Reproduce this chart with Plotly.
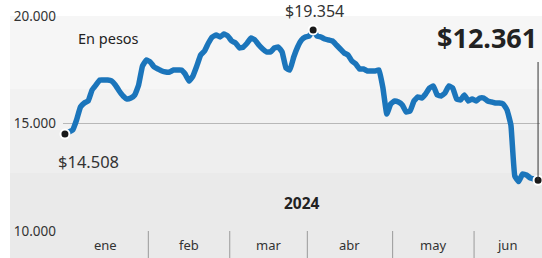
import plotly.graph_objects as go

# ---- data ----
months = ["ene", "feb", "mar", "abr", "may", "jun"]
days_per_month = [22, 21, 20, 22, 21, 17]   # trading days
year_label = "2024"
y_ticks = [10000, 15000, 20000]
y_tick_text = ["10.000", "15.000", "20.000"]

prices = [
    14508, 14605, 14698, 15163, 15768, 15954, 16047, 16558, 16791, 17023,
    17023, 17023, 16977, 16791, 16512, 16279, 16140, 16186, 16326, 16791,
    17674, 17954, 17861, 17628, 17535, 17442, 17395, 17395, 17488, 17488,
    17488, 17302, 16977, 17209, 17674, 18186, 18372, 18744, 19023, 19116,
    19023, 19163, 19070, 18837, 18744, 18512, 18558, 18744, 18977, 18884,
    18651, 18465, 18326, 18326, 18512, 18558, 18326, 17581, 17488, 18093,
    18558, 18884, 19023, 19070, 19354, 19070, 19023, 18930, 18884, 18837,
    18651, 18465, 18279, 18186, 17907, 17768, 17535, 17535, 17442, 17442,
    17442, 17488, 16651, 15442, 15907, 16047, 16000, 15861, 15535, 15582,
    16047, 16233, 16186, 16372, 16651, 16744, 16326, 16279, 16419, 16744,
    16651, 16140, 16093, 16326, 16047, 16140, 16047, 16186, 16186, 16047,
    16000, 15954, 15954, 15907, 15628, 14930, 12558, 12300, 12651, 12605,
    12465, 12419, 12361,
]

x = list(range(len(prices)))
first_i, last_i = 0, len(prices) - 1
peak_i = max(range(len(prices)), key=lambda i: prices[i])

def fmt(v):
    return "$" + f"{v:,}".replace(",", ".")

# month boundaries / centers
bounds = []
c = 0
centers = []
for n in days_per_month:
    centers.append(c + (n - 1) / 2)
    c += n
    bounds.append(c - 0.5)

W, H = 542, 258
ML, MR, MT, MB = 63, 2, 16, 27
PW, PH = W - ML - MR, H - MT - MB
FONT = "Noto Sans"

fig = go.Figure()

fig.add_trace(go.Scatter(
    x=x, y=prices, mode="lines",
    line=dict(color="#1b75bb", width=5.5, shape="spline", smoothing=0.3),
    hoverinfo="skip", cliponaxis=False,
))
fig.add_trace(go.Scatter(
    x=[first_i, peak_i, last_i],
    y=[prices[first_i], prices[peak_i], prices[last_i]],
    mode="markers",
    marker=dict(color="#1a1a1a", size=9, line=dict(color="white", width=2)),
    hoverinfo="skip", cliponaxis=False,
))

shapes = []
# background bands (approximate vertical gradient)
bands = [(1.0, 0.66, "#f6f6f6"), (0.66, 0.47, "#f2f2f2"),
         (0.47, 0.27, "#eeeeee"), (0.27, -MB / PH, "#eaeaea")]
for y1, y0, col in bands:
    shapes.append(dict(type="rect", xref="paper", yref="paper",
                       x0=(10 - ML) / PW, x1=1 + MR / PW,
                       y0=y0, y1=y1,
                       fillcolor=col, line=dict(width=0), layer="below"))
# month dividers in the axis band
for b in bounds[:-1]:
    shapes.append(dict(type="line", xref="x", yref="paper",
                       x0=b, x1=b, y0=0, y1=-MB / PH,
                       line=dict(color="#9a9a9a", width=1)))
# vertical marker line at last value
shapes.append(dict(type="line", xref="x", yref="y",
                   x0=last_i, x1=last_i, y0=prices[last_i], y1=17860,
                   line=dict(color="#333333", width=1)))

annotations = []
for m, cx in zip(months, centers):
    annotations.append(dict(x=cx, y=0, xref="x", yref="paper", text=m,
                            showarrow=False, yanchor="middle", yshift=-14,
                            font=dict(family=FONT, size=13, color="#333333")))
annotations += [
    dict(x=0.03, y=0.9, xref="paper", yref="paper", text="En pesos",
         showarrow=False, xanchor="left", yanchor="middle", xshift=-1,
         font=dict(family=FONT, size=14.5, color="#222222")),
    dict(x=peak_i, y=prices[peak_i], text=fmt(prices[peak_i]), showarrow=False,
         yanchor="middle", yshift=19, xshift=1,
         font=dict(family=FONT, size=16, color="#333333")),
    dict(x=first_i, y=prices[first_i], text=fmt(prices[first_i]), showarrow=False,
         xanchor="left", yanchor="middle", yshift=-27, xshift=-9,
         font=dict(family=FONT, size=16.5, color="#333333")),
    dict(x=1, y=0.9, xref="paper", yref="paper", text="<b>" + fmt(prices[last_i]) + "</b>",
         showarrow=False, xanchor="right", yanchor="middle", xshift=-1,
         font=dict(family=FONT, size=27, color="#222222")),
    dict(x=0.5, y=0.13, xref="paper", yref="paper", text="<b>" + year_label + "</b>",
         showarrow=False, yanchor="middle", xshift=0,
         font=dict(family=FONT, size=15.5, color="#222222")),
]

fig.update_layout(
    width=W, height=H,
    margin=dict(l=ML, r=MR, t=MT, b=MB),
    paper_bgcolor="white", plot_bgcolor="rgba(0,0,0,0)",
    showlegend=False,
    shapes=shapes, annotations=annotations,
    xaxis=dict(range=[-0.5, last_i + 0.5], showgrid=False, zeroline=False,
               showticklabels=False, ticks="", fixedrange=True),
    yaxis=dict(range=[10000, 20000], tickvals=y_ticks, ticktext=y_tick_text,
               showgrid=True, gridcolor="#b8b8b8", gridwidth=1, zeroline=False,
               ticks="", ticklabelstandoff=6,
               tickfont=dict(family=FONT, size=13.5, color="#333333"),
               fixedrange=True),
)

fig.write_html(
    "out.html",
    config={"displayModeBar": False, "staticPlot": True},
    post_script="document.body.style.margin='0';document.body.style.overflow='hidden';",
)
